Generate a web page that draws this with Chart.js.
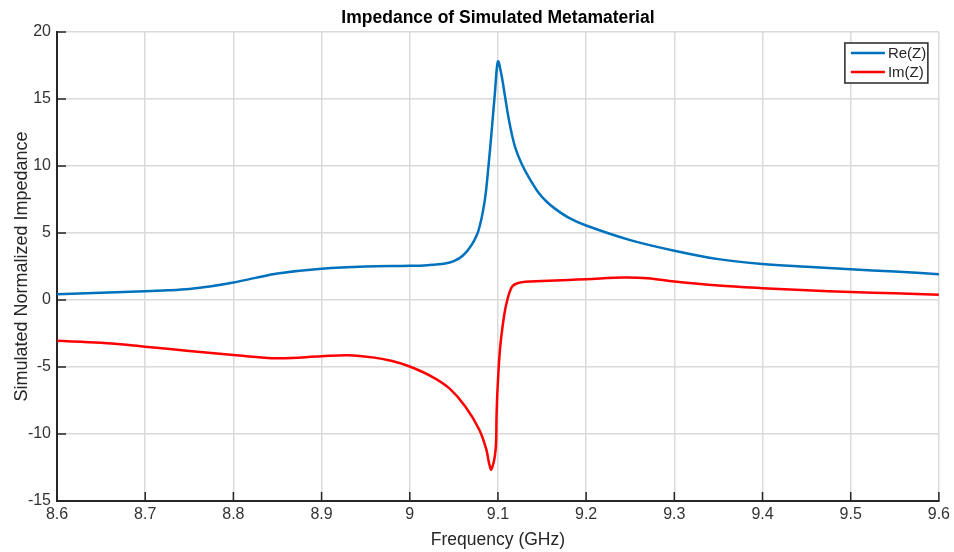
<!DOCTYPE html>
<html>
<head>
<meta charset="utf-8">
<script src="https://cdn.jsdelivr.net/npm/chart.js@4.4.1/dist/chart.umd.min.js"></script>
<style>
  html, body { margin: 0; padding: 0; background: #fff; }
  #wrap { width: 954px; height: 552px; }
</style>
</head>
<body>
<div id="wrap"><canvas id="chart" width="954" height="552"></canvas></div>
<script>
// frequency samples (GHz) and values
const freqRe = [8.6, 8.65, 8.7, 8.725, 8.75, 8.775, 8.8, 8.825, 8.85, 8.9, 8.95, 9.0, 9.02, 9.04,
  9.05, 9.06, 9.07, 9.078, 9.085, 9.089, 9.093, 9.0965, 9.1, 9.104, 9.108, 9.112, 9.116, 9.12,
  9.127, 9.135, 9.145, 9.155, 9.165, 9.18, 9.2, 9.25, 9.3, 9.35, 9.4, 9.45, 9.5, 9.55, 9.6];
const reZ = [0.42, 0.55, 0.66, 0.72, 0.82, 1.02, 1.3, 1.65, 1.98, 2.33, 2.5, 2.55, 2.6, 2.72,
  2.9, 3.3, 4.1, 5.2, 7.4, 9.8, 12.7, 15.4, 17.8, 16.8, 15.2, 13.6, 12.3, 11.3,
  10.15, 9.15, 8.1, 7.35, 6.8, 6.15, 5.56, 4.47, 3.68, 3.05, 2.68, 2.48, 2.3, 2.12, 1.93];

const freqIm = [8.6, 8.65, 8.7, 8.75, 8.8, 8.85, 8.9, 8.93, 8.96, 8.98, 9.0, 9.026, 9.045, 9.063,
  9.079, 9.087, 9.09, 9.0925, 9.0973, 9.0984, 9.0995, 9.1023, 9.1068, 9.1106, 9.116, 9.122,
  9.131, 9.15, 9.18, 9.2, 9.243, 9.27, 9.3, 9.35, 9.4, 9.45, 9.5, 9.55, 9.6];
const imZ = [-3.05, -3.19, -3.48, -3.8, -4.1, -4.35, -4.2, -4.12, -4.3, -4.55, -4.96, -5.75, -6.6, -7.95,
  -9.7, -11.2, -12.2, -12.65, -11.2, -8.7, -6.7, -3.7, -1.25, 0.0, 1.0, 1.25,
  1.37, 1.42, 1.5, 1.55, 1.68, 1.62, 1.38, 1.08, 0.88, 0.72, 0.6, 0.5, 0.4];

const seriesNames = ['Re(Z)', 'Im(Z)'];
const seriesColors = ['#0072BD', '#FF0000'];

const toPts = (xs, ys) => xs.map((x, i) => ({ x: x, y: ys[i] }));

const narrow = "'Liberation Sans Narrow', 'Arial Narrow', 'Liberation Sans', Arial, sans-serif";
const sans = "'Liberation Sans', Arial, sans-serif";

// MATLAB-like inward ticks on the left and bottom axes
const inwardTicks = {
  id: 'inwardTicks',
  afterDraw(c) {
    const ctx = c.ctx, a = c.chartArea;
    const xs = c.scales.x, ys = c.scales.y;
    ctx.save();
    ctx.strokeStyle = '#262626';
    ctx.lineWidth = 1.5;
    ctx.beginPath();
    xs.ticks.forEach(t => {
      const px = xs.getPixelForValue(t.value);
      ctx.moveTo(px, a.bottom);
      ctx.lineTo(px, a.bottom - 9);
    });
    ys.ticks.forEach(t => {
      const py = ys.getPixelForValue(t.value);
      ctx.moveTo(a.left, py);
      ctx.lineTo(a.left + 9, py);
    });
    ctx.stroke();
    ctx.restore();
  }
};

// boxed legend in the upper right corner
const boxLegend = {
  id: 'boxLegend',
  afterDraw(c) {
    const ctx = c.ctx, a = c.chartArea;
    const w = 83, h = 40;
    const x0 = a.right - 94, y0 = a.top + 11;
    ctx.save();
    ctx.fillStyle = '#fff';
    ctx.fillRect(x0, y0, w, h);
    ctx.strokeStyle = '#262626';
    ctx.lineWidth = 1.5;
    ctx.strokeRect(x0, y0, w, h);
    ctx.font = '15px ' + sans;
    ctx.textBaseline = 'middle';
    c.data.datasets.forEach((ds, i) => {
      const yy = y0 + 10 + i * 19;
      ctx.strokeStyle = ds.borderColor;
      ctx.lineWidth = 2.5;
      ctx.beginPath();
      ctx.moveTo(x0 + 6, yy);
      ctx.lineTo(x0 + 40, yy);
      ctx.stroke();
      ctx.fillStyle = '#262626';
      ctx.fillText(ds.label, x0 + 43, yy + 1);
    });
    ctx.restore();
  }
};

new Chart(document.getElementById('chart'), {
  type: 'line',
  data: {
    datasets: [
      { label: seriesNames[0], data: toPts(freqRe, reZ), borderColor: seriesColors[0] },
      { label: seriesNames[1], data: toPts(freqIm, imZ), borderColor: seriesColors[1] }
    ]
  },
  options: {
    responsive: false,
    animation: false,
    layout: { padding: { left: 0, right: 13, top: 0, bottom: 0 } },
    elements: {
      point: { radius: 0 },
      line: { borderWidth: 2.5, tension: 0.35, fill: false }
    },
    plugins: {
      legend: { display: false },
      tooltip: { enabled: false },
      title: {
        display: true,
        fullSize: false,
        text: 'Impedance of Simulated Metamaterial',
        color: '#000',
        font: { family: sans, size: 17.5, weight: 'bold' },
        padding: { top: 8, bottom: 3 }
      }
    },
    scales: {
      x: {
        type: 'linear',
        min: 8.6, max: 9.6,
        afterFit(s) { s.height = 51; },
        ticks: {
          stepSize: 0.1,
          color: '#333',
          padding: 4,
          font: { family: narrow, size: 16 },
          callback: v => Math.round(v * 10) / 10
        },
        grid: { color: '#dadada', lineWidth: 1.5, drawTicks: false },
        border: { color: '#262626', width: 2 },
        title: {
          display: true,
          text: 'Frequency (GHz)',
          color: '#262626',
          font: { family: sans, size: 17.5 },
          padding: { top: 0, bottom: 1 }
        }
      },
      y: {
        min: -15, max: 20,
        afterFit(s) { s.width = 57; },
        ticks: {
          stepSize: 5,
          color: '#333',
          padding: 6,
          font: { family: narrow, size: 16 }
        },
        grid: { color: '#dadada', lineWidth: 1.5, drawTicks: false },
        border: { color: '#262626', width: 2 },
        title: {
          display: true,
          text: 'Simulated Normalized Impedance',
          color: '#262626',
          font: { family: sans, size: 18 },
          padding: { top: 11, bottom: 0 }
        }
      }
    }
  },
  plugins: [inwardTicks, boxLegend]
});
</script>
</body>
</html>
